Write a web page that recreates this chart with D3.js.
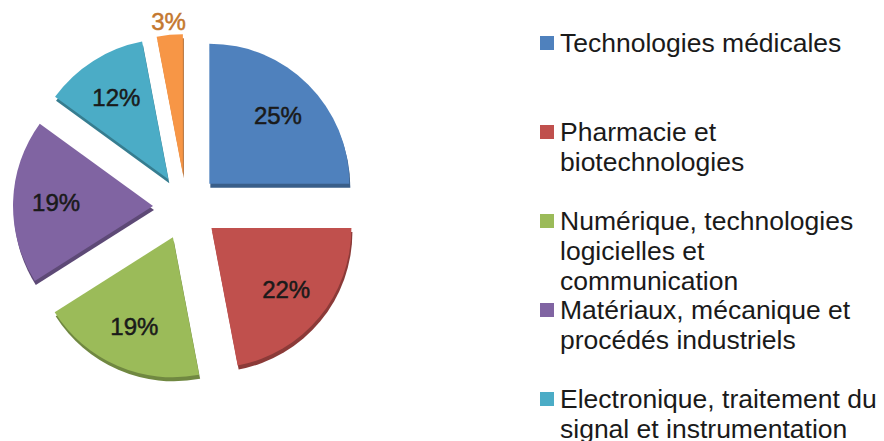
<!DOCTYPE html>
<html>
<head>
<meta charset="utf-8">
<script src="https://cdn.jsdelivr.net/npm/d3@7"></script>
<style>
  html, body { margin: 0; padding: 0; background: #fff; }
  svg { display: block; font-family: "Liberation Sans", Arial, sans-serif; }
</style>
</head>
<body>
<div id="chart"></div>
<script>
// Data
const categories = [
  "Technologies médicales",
  "Pharmacie et biotechnologies",
  "Numérique, technologies logicielles et communication",
  "Matériaux, mécanique et procédés industriels",
  "Electronique, traitement du signal et instrumentation",
  "Autres"
];
const values = [25, 22, 19, 19, 12, 3];
const pctLabels = ["25%", "22%", "19%", "19%", "12%", "3%"];
// legend text wrapped as in the picture (last entry falls below the frame)
const legendLines = [
  ["Technologies médicales"],
  ["Pharmacie et", "biotechnologies"],
  ["Numérique, technologies", "logicielles et", "communication"],
  ["Matériaux, mécanique et", "procédés industriels"],
  ["Electronique, traitement du", "signal et instrumentation"],
  ["Autres"]
];
const colors = ["#4F81BD", "#C0504D", "#9BBB59", "#8064A2", "#4BACC6", "#F79646"];

const width = 884, height = 441;
const cx = 186, cy = 207;
const radius = 140;
const explode = 33;

const svg = d3.select("#chart").append("svg")
  .attr("width", width)
  .attr("height", height);

const pie = d3.pie().sort(null).value(d => d.value)(
  values.map((v, i) => ({ value: v, i }))
);
const arc = d3.arc().innerRadius(0).outerRadius(radius);
const labelArc = d3.arc().innerRadius(97).outerRadius(97);
const outerLabelArc = d3.arc().innerRadius(153).outerRadius(153);

function offset(d) {
  const a = (d.startAngle + d.endAngle) / 2;
  return [cx + explode * Math.sin(a), cy - explode * Math.cos(a)];
}

const slices = svg.append("g").selectAll("g")
  .data(pie)
  .enter()
  .append("g")
  .attr("transform", d => `translate(${offset(d)})`);

// thin darker rim to mimic the 3D look
slices.append("path")
  .attr("d", arc)
  .attr("transform", "translate(1,4)")
  .attr("fill", d => d3.color(colors[d.data.i]).darker(0.9));

slices.append("path")
  .attr("d", arc)
  .attr("fill", d => colors[d.data.i]);

// percentage labels
slices.append("text")
  .attr("transform", d => {
    const small = d.data.value < 5;
    const p = (small ? outerLabelArc : labelArc).centroid(d);
    return `translate(${p})`;
  })
  .attr("text-anchor", "middle")
  .attr("dominant-baseline", "central")
  .style("font-size", "24px")
  .style("fill", d => d.data.value < 5 ? "#c4782f" : "#1a1a1a")
  .style("stroke", d => d.data.value < 5 ? "#c4782f" : "#1a1a1a")
  .style("stroke-width", 0.5)
  .text(d => pctLabels[d.data.i]);

// Legend
const legend = svg.append("g").attr("transform", "translate(540,0)");
const lineH = 30;
const slotH = 89;
const firstY = 43;

legendLines.forEach((lines, i) => {
  const y0 = firstY + i * slotH;
  const g = legend.append("g").attr("transform", `translate(0,${y0})`);
  g.append("rect")
    .attr("x", 0)
    .attr("y", -7)
    .attr("width", 14)
    .attr("height", 14)
    .attr("fill", colors[i]);
  const t = g.append("text")
    .style("font-size", "26.5px")
    .style("fill", "#1a1a1a");
  lines.forEach((ln, j) => {
    t.append("tspan")
      .attr("x", 20)
      .attr("y", j * lineH + 9)
      .text(ln);
  });
});
</script>
</body>
</html>
